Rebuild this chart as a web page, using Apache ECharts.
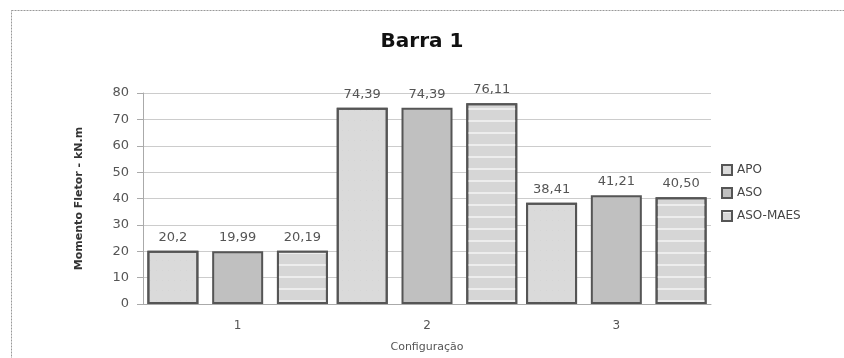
<!DOCTYPE html>
<html>
<head>
<meta charset="utf-8">
<script src="https://cdn.jsdelivr.net/npm/echarts@6/dist/echarts.min.js"></script>
<style>html,body{margin:0;padding:0;background:#fff}#c{width:844px;height:358px}</style>
</head>
<body>
<div id="c"></div>
<script>
var categories = ['1', '2', '3'];
var seriesNames = ['APO', 'ASO', 'ASO-MAES'];
var apo = [20.2, 74.39, 38.41];
var aso = [19.99, 74.39, 41.21];
var asoMaes = [20.19, 76.11, 40.50];
var apoLabels = ['20,2', '74,39', '38,41'];
var asoLabels = ['19,99', '74,39', '41,21'];
var asoMaesLabels = ['20,19', '76,11', '40,50'];
var yTicks = [0, 10, 20, 30, 40, 50, 60, 70, 80];

var chart = echarts.init(document.getElementById('c'), null, {renderer: 'canvas'});
function mk(name, data, labels, color, decal) {
  var st = {color: color, borderColor: '#555', borderWidth: 2};
  if (decal) st.decal = decal;
  return {
    name: name, type: 'bar', data: data,
    barWidth: 51, barGap: '27%',
    itemStyle: st,
    label: {
      show: true, position: 'top', distance: 7,
      color: '#555', fontSize: 13, fontFamily: 'DejaVu Sans',
      formatter: function (p) { return labels[p.dataIndex]; }
    }
  };
}
chart.setOption({
  animation: false,
  title: {
    text: 'Barra 1', left: 'center', top: 27,
    textStyle: {fontSize: 20, fontWeight: 'bold', color: '#111', fontFamily: 'DejaVu Sans'}
  },
  legend: {
    orient: 'vertical', left: 716, top: 159, itemGap: 11,
    itemWidth: 10, itemHeight: 10, icon: 'rect',
    textStyle: {fontSize: 12, color: '#444', fontFamily: 'DejaVu Sans'},
    data: seriesNames
  },
  grid: {left: 143, right: 133, top: 93, bottom: 50},
  xAxis: {
    type: 'category', data: categories,
    name: 'Configuração', nameLocation: 'middle', nameGap: 38,
    nameTextStyle: {fontSize: 11, color: '#555', fontFamily: 'DejaVu Sans'},
    axisLine: {lineStyle: {color: '#aaa'}},
    axisTick: {show: false},
    axisLabel: {color: '#555', fontSize: 12, margin: 16, fontFamily: 'DejaVu Sans'}
  },
  yAxis: {
    type: 'value', min: 0, max: 80, interval: 10,
    name: 'Momento Fletor - kN.m', nameLocation: 'middle', nameGap: 58,
    nameTextStyle: {fontSize: 11, color: '#333', fontWeight: 'bold', fontFamily: 'DejaVu Sans'},
    axisLine: {show: true, lineStyle: {color: '#aaa'}},
    axisTick: {show: true, length: 6, lineStyle: {color: '#aaa'}},
    axisLabel: {color: '#555', fontSize: 13, margin: 14, fontFamily: 'DejaVu Sans',
      formatter: function (v) { return yTicks.indexOf(v) >= 0 ? String(v) : ''; }},
    splitLine: {lineStyle: {color: '#ccc'}}
  },
  graphic: [{
    type: 'rect', left: 9, top: 8, shape: {width: 860, height: 360},
    style: {fill: 'none', stroke: '#999', lineWidth: 1, lineDash: [2, 1]}, silent: true
  }],
  series: [
    mk(seriesNames[0], apo, apoLabels, '#dadada', {symbol: 'rect', symbolSize: 0.3, color: 'rgba(170,170,170,0.5)', dashArrayX: [1, 5], dashArrayY: [1, 9], rotation: 0}),
    mk(seriesNames[1], aso, asoLabels, '#c0c0c0', null),
    mk(seriesNames[2], asoMaes, asoMaesLabels, '#d6d6d6', {symbol: 'rect', symbolSize: 1, color: 'rgba(255,255,255,0.55)', dashArrayX: [1, 0], dashArrayY: [2, 10], rotation: 0})
  ]
});
</script>
</body>
</html>
